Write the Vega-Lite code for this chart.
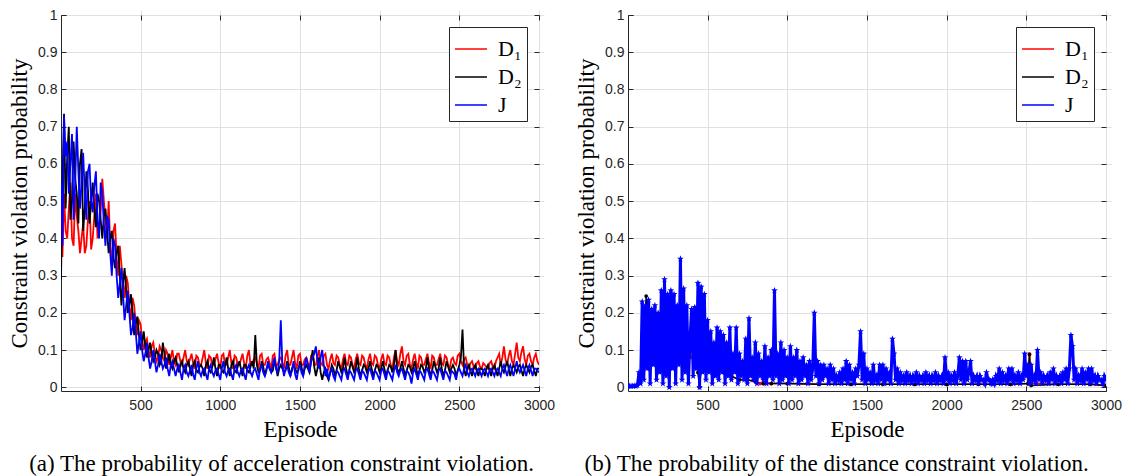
{
"$schema":"https://vega.github.io/schema/vega-lite/v6.json",
"padding":{"left":8,"top":7,"right":0,"bottom":0},
"background":"white",
"datasets":{
"acc":[
{"e":1,"D1":0.45,"D2":0.29,"J":0.55},{"e":10,"D1":0.35,"D2":0.55,"J":0.38},{"e":20,"D1":0.52,"D2":0.735,"J":0.73},{"e":30,"D1":0.42,"D2":0.48,"J":0.62},{"e":40,"D1":0.40,"D2":0.62,"J":0.66},{"e":50,"D1":0.48,"D2":0.70,"J":0.52},{"e":60,"D1":0.55,"D2":0.45,"J":0.60},{"e":70,"D1":0.40,"D2":0.50,"J":0.68},{"e":80,"D1":0.38,"D2":0.66,"J":0.45},{"e":90,"D1":0.52,"D2":0.56,"J":0.55},{"e":100,"D1":0.46,"D2":0.52,"J":0.70},{"e":110,"D1":0.42,"D2":0.44,"J":0.58},{"e":120,"D1":0.36,"D2":0.60,"J":0.48},{"e":130,"D1":0.40,"D2":0.64,"J":0.55},{"e":140,"D1":0.44,"D2":0.42,"J":0.63},{"e":150,"D1":0.36,"D2":0.48,"J":0.52},{"e":160,"D1":0.38,"D2":0.58,"J":0.45},{"e":170,"D1":0.45,"D2":0.53,"J":0.58},{"e":180,"D1":0.50,"D2":0.44,"J":0.60},{"e":190,"D1":0.37,"D2":0.50,"J":0.50},{"e":200,"D1":0.40,"D2":0.55,"J":0.47},{"e":210,"D1":0.46,"D2":0.48,"J":0.54},{"e":220,"D1":0.52,"D2":0.43,"J":0.58},{"e":230,"D1":0.40,"D2":0.52,"J":0.45},{"e":240,"D1":0.42,"D2":0.50,"J":0.40},{"e":250,"D1":0.47,"D2":0.45,"J":0.55},{"e":260,"D1":0.56,"D2":0.40,"J":0.52},{"e":270,"D1":0.50,"D2":0.46,"J":0.44},{"e":280,"D1":0.45,"D2":0.48,"J":0.38},{"e":290,"D1":0.40,"D2":0.42,"J":0.46},{"e":300,"D1":0.50,"D2":0.36,"J":0.45},{"e":310,"D1":0.38,"D2":0.40,"J":0.36},{"e":320,"D1":0.33,"D2":0.42,"J":0.30},{"e":330,"D1":0.42,"D2":0.35,"J":0.40},{"e":340,"D1":0.44,"D2":0.32,"J":0.38},{"e":350,"D1":0.35,"D2":0.36,"J":0.30},{"e":360,"D1":0.30,"D2":0.38,"J":0.24},{"e":370,"D1":0.38,"D2":0.30,"J":0.28},{"e":380,"D1":0.33,"D2":0.22,"J":0.32},{"e":390,"D1":0.28,"D2":0.28,"J":0.25},{"e":400,"D1":0.24,"D2":0.32,"J":0.18},{"e":410,"D1":0.30,"D2":0.26,"J":0.22},{"e":420,"D1":0.28,"D2":0.20,"J":0.26},{"e":430,"D1":0.22,"D2":0.22,"J":0.20},{"e":440,"D1":0.18,"D2":0.25,"J":0.14},{"e":450,"D1":0.24,"D2":0.20,"J":0.16},{"e":460,"D1":0.22,"D2":0.14,"J":0.20},{"e":470,"D1":0.17,"D2":0.17,"J":0.15},{"e":480,"D1":0.14,"D2":0.19,"J":0.09},{"e":490,"D1":0.18,"D2":0.14,"J":0.12},{"e":500,"D1":0.17,"D2":0.10,"J":0.15},{"e":510,"D1":0.13,"D2":0.12,"J":0.10},{"e":520,"D1":0.10,"D2":0.15,"J":0.07},{"e":530,"D1":0.12,"D2":0.11,"J":0.09},{"e":540,"D1":0.13,"D2":0.08,"J":0.12},{"e":550,"D1":0.10,"D2":0.10,"J":0.08},{"e":560,"D1":0.08,"D2":0.12,"J":0.05},{"e":570,"D1":0.11,"D2":0.09,"J":0.07},{"e":580,"D1":0.12,"D2":0.07,"J":0.10},{"e":590,"D1":0.09,"D2":0.08,"J":0.07},{"e":600,"D1":0.07,"D2":0.10,"J":0.04},{"e":610,"D1":0.08,"D2":0.09,"J":0.06},{"e":620,"D1":0.11,"D2":0.06,"J":0.09},{"e":630,"D1":0.10,"D2":0.07,"J":0.07},{"e":640,"D1":0.08,"D2":0.12,"J":0.05},{"e":650,"D1":0.07,"D2":0.09,"J":0.06},{"e":660,"D1":0.10,"D2":0.05,"J":0.08},{"e":670,"D1":0.09,"D2":0.07,"J":0.05},{"e":680,"D1":0.06,"D2":0.09,"J":0.03},{"e":690,"D1":0.08,"D2":0.06,"J":0.06},{"e":700,"D1":0.10,"D2":0.05,"J":0.07},{"e":710,"D1":0.07,"D2":0.07,"J":0.05},{"e":720,"D1":0.06,"D2":0.08,"J":0.03},{"e":730,"D1":0.09,"D2":0.06,"J":0.05},{"e":740,"D1":0.09,"D2":0.04,"J":0.06},{"e":750,"D1":0.07,"D2":0.06,"J":0.04},{"e":760,"D1":0.06,"D2":0.07,"J":0.02},{"e":770,"D1":0.08,"D2":0.05,"J":0.05},{"e":780,"D1":0.10,"D2":0.04,"J":0.06},{"e":790,"D1":0.07,"D2":0.06,"J":0.04},{"e":800,"D1":0.06,"D2":0.07,"J":0.03},
{"e":810,"D1":0.075,"D2":0.05,"J":0.045},{"e":820,"D1":0.09,"D2":0.03,"J":0.06},{"e":830,"D1":0.065,"D2":0.06,"J":0.035},{"e":840,"D1":0.05,"D2":0.07,"J":0.02},{"e":850,"D1":0.085,"D2":0.045,"J":0.05},{"e":860,"D1":0.08,"D2":0.04,"J":0.07},{"e":870,"D1":0.06,"D2":0.055,"J":0.04},{"e":880,"D1":0.06,"D2":0.06,"J":0.03},{"e":890,"D1":0.08,"D2":0.05,"J":0.045},{"e":900,"D1":0.10,"D2":0.03,"J":0.05},{"e":910,"D1":0.065,"D2":0.06,"J":0.035},{"e":920,"D1":0.05,"D2":0.07,"J":0.02},{"e":930,"D1":0.085,"D2":0.045,"J":0.05},{"e":940,"D1":0.08,"D2":0.04,"J":0.06},{"e":950,"D1":0.06,"D2":0.055,"J":0.04},{"e":960,"D1":0.06,"D2":0.08,"J":0.03},{"e":970,"D1":0.075,"D2":0.05,"J":0.045},{"e":980,"D1":0.09,"D2":0.03,"J":0.05},{"e":990,"D1":0.065,"D2":0.06,"J":0.035},{"e":1000,"D1":0.05,"D2":0.06,"J":0.02},{"e":1010,"D1":0.085,"D2":0.045,"J":0.05},{"e":1020,"D1":0.09,"D2":0.04,"J":0.07},{"e":1030,"D1":0.06,"D2":0.055,"J":0.04},{"e":1040,"D1":0.06,"D2":0.08,"J":0.03},{"e":1050,"D1":0.08,"D2":0.05,"J":0.045},{"e":1060,"D1":0.10,"D2":0.03,"J":0.05},{"e":1070,"D1":0.065,"D2":0.06,"J":0.035},{"e":1080,"D1":0.05,"D2":0.07,"J":0.02},{"e":1090,"D1":0.085,"D2":0.045,"J":0.05},{"e":1100,"D1":0.08,"D2":0.04,"J":0.06},{"e":1110,"D1":0.06,"D2":0.055,"J":0.04},{"e":1120,"D1":0.06,"D2":0.07,"J":0.03},{"e":1130,"D1":0.075,"D2":0.05,"J":0.045},{"e":1140,"D1":0.09,"D2":0.03,"J":0.05},{"e":1150,"D1":0.065,"D2":0.06,"J":0.035},{"e":1160,"D1":0.05,"D2":0.06,"J":0.02},{"e":1170,"D1":0.085,"D2":0.045,"J":0.05},{"e":1180,"D1":0.10,"D2":0.04,"J":0.06},{"e":1190,"D1":0.06,"D2":0.055,"J":0.04},{"e":1200,"D1":0.06,"D2":0.07,"J":0.03},{"e":1210,"D1":0.075,"D2":0.05,"J":0.045},{"e":1220,"D1":0.08,"D2":0.14,"J":0.05},{"e":1230,"D1":0.065,"D2":0.06,"J":0.035},{"e":1240,"D1":0.05,"D2":0.04,"J":0.02},{"e":1250,"D1":0.085,"D2":0.045,"J":0.05},{"e":1260,"D1":0.09,"D2":0.07,"J":0.06},{"e":1270,"D1":0.06,"D2":0.055,"J":0.04},{"e":1280,"D1":0.06,"D2":0.03,"J":0.03},{"e":1290,"D1":0.075,"D2":0.05,"J":0.045},{"e":1300,"D1":0.08,"D2":0.06,"J":0.07},{"e":1310,"D1":0.065,"D2":0.05,"J":0.05},{"e":1320,"D1":0.05,"D2":0.04,"J":0.04},{"e":1330,"D1":0.085,"D2":0.045,"J":0.06},{"e":1340,"D1":0.09,"D2":0.07,"J":0.08},{"e":1350,"D1":0.06,"D2":0.055,"J":0.05},{"e":1360,"D1":0.06,"D2":0.03,"J":0.04},{"e":1370,"D1":0.075,"D2":0.05,"J":0.07},{"e":1380,"D1":0.08,"D2":0.06,"J":0.18},{"e":1390,"D1":0.065,"D2":0.05,"J":0.06},{"e":1400,"D1":0.05,"D2":0.04,"J":0.03},{"e":1410,"D1":0.085,"D2":0.045,"J":0.05},{"e":1420,"D1":0.10,"D2":0.07,"J":0.06},{"e":1430,"D1":0.06,"D2":0.055,"J":0.04},{"e":1440,"D1":0.06,"D2":0.03,"J":0.03},{"e":1450,"D1":0.08,"D2":0.05,"J":0.045},{"e":1460,"D1":0.10,"D2":0.06,"J":0.07},{"e":1470,"D1":0.065,"D2":0.05,"J":0.035},{"e":1480,"D1":0.05,"D2":0.04,"J":0.02},{"e":1490,"D1":0.085,"D2":0.045,"J":0.05},{"e":1500,"D1":0.09,"D2":0.07,"J":0.06},{"e":1510,"D1":0.06,"D2":0.055,"J":0.04},{"e":1520,"D1":0.06,"D2":0.03,"J":0.03},{"e":1530,"D1":0.075,"D2":0.05,"J":0.06},{"e":1540,"D1":0.08,"D2":0.06,"J":0.08},{"e":1550,"D1":0.065,"D2":0.05,"J":0.06},{"e":1560,"D1":0.05,"D2":0.04,"J":0.04},{"e":1570,"D1":0.085,"D2":0.07,"J":0.07},{"e":1580,"D1":0.09,"D2":0.10,"J":0.08},{"e":1590,"D1":0.06,"D2":0.055,"J":0.09},{"e":1600,"D1":0.06,"D2":0.03,"J":0.11},{"e":1610,"D1":0.08,"D2":0.05,"J":0.07},{"e":1620,"D1":0.10,"D2":0.08,"J":0.05},{"e":1630,"D1":0.065,"D2":0.04,"J":0.08},{"e":1640,"D1":0.06,"D2":0.02,"J":0.10},{"e":1650,"D1":0.085,"D2":0.04,"J":0.06},{"e":1660,"D1":0.09,"D2":0.05,"J":0.03},{"e":1670,"D1":0.06,"D2":0.03,"J":0.05},{"e":1680,"D1":0.05,"D2":0.02,"J":0.02},{"e":1690,"D1":0.075,"D2":0.04,"J":0.04},{"e":1700,"D1":0.09,"D2":0.06,"J":0.05},{"e":1710,"D1":0.065,"D2":0.05,"J":0.03},{"e":1720,"D1":0.06,"D2":0.03,"J":0.02},{"e":1730,"D1":0.085,"D2":0.045,"J":0.045},{"e":1740,"D1":0.08,"D2":0.07,"J":0.04},{"e":1750,"D1":0.06,"D2":0.055,"J":0.03},{"e":1760,"D1":0.05,"D2":0.04,"J":0.02},{"e":1770,"D1":0.075,"D2":0.05,"J":0.045},{"e":1780,"D1":0.09,"D2":0.08,"J":0.05},{"e":1790,"D1":0.065,"D2":0.05,"J":0.035},{"e":1800,"D1":0.06,"D2":0.03,"J":0.02},{"e":1810,"D1":0.085,"D2":0.045,"J":0.045},{"e":1820,"D1":0.08,"D2":0.07,"J":0.04},{"e":1830,"D1":0.06,"D2":0.055,"J":0.03},{"e":1840,"D1":0.05,"D2":0.04,"J":0.02},{"e":1850,"D1":0.075,"D2":0.05,"J":0.045},{"e":1860,"D1":0.09,"D2":0.08,"J":0.05},{"e":1870,"D1":0.065,"D2":0.05,"J":0.035},{"e":1880,"D1":0.06,"D2":0.03,"J":0.02},{"e":1890,"D1":0.085,"D2":0.045,"J":0.045},{"e":1900,"D1":0.08,"D2":0.06,"J":0.04},{"e":1910,"D1":0.06,"D2":0.055,"J":0.03},{"e":1920,"D1":0.05,"D2":0.04,"J":0.02},{"e":1930,"D1":0.075,"D2":0.05,"J":0.045},{"e":1940,"D1":0.09,"D2":0.07,"J":0.05},{"e":1950,"D1":0.065,"D2":0.05,"J":0.035},{"e":1960,"D1":0.06,"D2":0.03,"J":0.02},{"e":1970,"D1":0.085,"D2":0.045,"J":0.045},{"e":1980,"D1":0.08,"D2":0.06,"J":0.04},{"e":1990,"D1":0.06,"D2":0.055,"J":0.03},{"e":2000,"D1":0.05,"D2":0.04,"J":0.02},{"e":2010,"D1":0.075,"D2":0.05,"J":0.045},{"e":2020,"D1":0.09,"D2":0.07,"J":0.05},{"e":2030,"D1":0.065,"D2":0.05,"J":0.035},{"e":2040,"D1":0.06,"D2":0.03,"J":0.02},{"e":2050,"D1":0.085,"D2":0.045,"J":0.045},{"e":2060,"D1":0.08,"D2":0.06,"J":0.04},{"e":2070,"D1":0.06,"D2":0.055,"J":0.03},{"e":2080,"D1":0.05,"D2":0.04,"J":0.02},{"e":2090,"D1":0.08,"D2":0.06,"J":0.045},{"e":2100,"D1":0.10,"D2":0.10,"J":0.06},{"e":2110,"D1":0.07,"D2":0.05,"J":0.04},{"e":2120,"D1":0.06,"D2":0.04,"J":0.03},{"e":2130,"D1":0.09,"D2":0.05,"J":0.045},{"e":2140,"D1":0.11,"D2":0.07,"J":0.05},{"e":2150,"D1":0.07,"D2":0.05,"J":0.035},{"e":2160,"D1":0.06,"D2":0.03,"J":0.02},{"e":2170,"D1":0.085,"D2":0.045,"J":0.045},{"e":2180,"D1":0.09,"D2":0.06,"J":0.04},{"e":2190,"D1":0.06,"D2":0.055,"J":0.03},{"e":2200,"D1":0.05,"D2":0.04,"J":0.01},{"e":2210,"D1":0.075,"D2":0.05,"J":0.04},{"e":2220,"D1":0.09,"D2":0.07,"J":0.05},{"e":2230,"D1":0.065,"D2":0.05,"J":0.035},{"e":2240,"D1":0.05,"D2":0.03,"J":0.02},{"e":2250,"D1":0.085,"D2":0.045,"J":0.045},{"e":2260,"D1":0.08,"D2":0.06,"J":0.04},{"e":2270,"D1":0.06,"D2":0.055,"J":0.03},{"e":2280,"D1":0.06,"D2":0.04,"J":0.02},{"e":2290,"D1":0.075,"D2":0.05,"J":0.045},{"e":2300,"D1":0.09,"D2":0.08,"J":0.05},{"e":2310,"D1":0.065,"D2":0.05,"J":0.035},{"e":2320,"D1":0.05,"D2":0.03,"J":0.02},{"e":2330,"D1":0.085,"D2":0.045,"J":0.045},{"e":2340,"D1":0.08,"D2":0.07,"J":0.04},{"e":2350,"D1":0.06,"D2":0.055,"J":0.03},{"e":2360,"D1":0.06,"D2":0.04,"J":0.02},{"e":2370,"D1":0.075,"D2":0.05,"J":0.045},{"e":2380,"D1":0.09,"D2":0.08,"J":0.05},{"e":2390,"D1":0.065,"D2":0.05,"J":0.035},{"e":2400,"D1":0.06,"D2":0.03,"J":0.02},{"e":2410,"D1":0.085,"D2":0.045,"J":0.045},{"e":2420,"D1":0.08,"D2":0.07,"J":0.04},{"e":2430,"D1":0.06,"D2":0.055,"J":0.03},{"e":2440,"D1":0.05,"D2":0.04,"J":0.02},{"e":2450,"D1":0.075,"D2":0.05,"J":0.045},{"e":2460,"D1":0.08,"D2":0.06,"J":0.04},{"e":2470,"D1":0.065,"D2":0.05,"J":0.035},{"e":2480,"D1":0.06,"D2":0.03,"J":0.02},{"e":2490,"D1":0.085,"D2":0.045,"J":0.045},{"e":2500,"D1":0.09,"D2":0.06,"J":0.05},{"e":2510,"D1":0.07,"D2":0.08,"J":0.04},{"e":2520,"D1":0.06,"D2":0.155,"J":0.03},{"e":2530,"D1":0.075,"D2":0.05,"J":0.05},{"e":2540,"D1":0.08,"D2":0.03,"J":0.06},{"e":2550,"D1":0.06,"D2":0.05,"J":0.04},{"e":2560,"D1":0.05,"D2":0.06,"J":0.03},{"e":2570,"D1":0.065,"D2":0.045,"J":0.045},{"e":2580,"D1":0.07,"D2":0.03,"J":0.05},{"e":2590,"D1":0.055,"D2":0.05,"J":0.04},{"e":2600,"D1":0.05,"D2":0.06,"J":0.03},{"e":2610,"D1":0.065,"D2":0.045,"J":0.045},{"e":2620,"D1":0.07,"D2":0.03,"J":0.05},{"e":2630,"D1":0.055,"D2":0.05,"J":0.04},{"e":2640,"D1":0.05,"D2":0.05,"J":0.03},{"e":2650,"D1":0.065,"D2":0.045,"J":0.045},{"e":2660,"D1":0.06,"D2":0.03,"J":0.05},{"e":2670,"D1":0.055,"D2":0.05,"J":0.04},{"e":2680,"D1":0.05,"D2":0.06,"J":0.03},{"e":2690,"D1":0.065,"D2":0.045,"J":0.045},{"e":2700,"D1":0.07,"D2":0.03,"J":0.05},{"e":2710,"D1":0.055,"D2":0.05,"J":0.04},{"e":2720,"D1":0.05,"D2":0.06,"J":0.03},{"e":2730,"D1":0.07,"D2":0.045,"J":0.045},{"e":2740,"D1":0.08,"D2":0.03,"J":0.05},{"e":2750,"D1":0.09,"D2":0.05,"J":0.04},{"e":2760,"D1":0.06,"D2":0.07,"J":0.03},{"e":2770,"D1":0.08,"D2":0.05,"J":0.05},{"e":2780,"D1":0.11,"D2":0.04,"J":0.06},{"e":2790,"D1":0.075,"D2":0.055,"J":0.045},{"e":2800,"D1":0.06,"D2":0.07,"J":0.03},{"e":2810,"D1":0.085,"D2":0.05,"J":0.05},{"e":2820,"D1":0.10,"D2":0.03,"J":0.06},{"e":2830,"D1":0.07,"D2":0.05,"J":0.045},{"e":2840,"D1":0.06,"D2":0.06,"J":0.03},{"e":2850,"D1":0.09,"D2":0.05,"J":0.05},{"e":2860,"D1":0.12,"D2":0.04,"J":0.07},{"e":2870,"D1":0.08,"D2":0.055,"J":0.05},{"e":2880,"D1":0.07,"D2":0.06,"J":0.04},{"e":2890,"D1":0.095,"D2":0.045,"J":0.05},{"e":2900,"D1":0.11,"D2":0.03,"J":0.06},{"e":2910,"D1":0.075,"D2":0.05,"J":0.045},{"e":2920,"D1":0.06,"D2":0.06,"J":0.03},{"e":2930,"D1":0.085,"D2":0.05,"J":0.05},{"e":2940,"D1":0.09,"D2":0.04,"J":0.06},{"e":2950,"D1":0.07,"D2":0.055,"J":0.045},{"e":2960,"D1":0.06,"D2":0.06,"J":0.03},{"e":2970,"D1":0.08,"D2":0.045,"J":0.05},{"e":2980,"D1":0.09,"D2":0.03,"J":0.05},{"e":2990,"D1":0.07,"D2":0.05,"J":0.045},{"e":3000,"D1":0.06,"D2":0.05,"J":0.04}
],
"distD":[
{"e":1,"D1":0.003,"D2":0.003},{"e":50,"D1":0.003,"D2":0.004},{"e":80,"D1":0.03,"D2":0.02},{"e":100,"D1":0.12,"D2":0.1},{"e":115,"D1":0.08,"D2":0.245},{"e":130,"D1":0.1,"D2":0.05},{"e":150,"D1":0.14,"D2":0.12},{"e":200,"D1":0.1,"D2":0.15},{"e":250,"D1":0.16,"D2":0.12},{"e":300,"D1":0.1,"D2":0.14},{"e":350,"D1":0.12,"D2":0.1},{"e":400,"D1":0.08,"D2":0.1},{"e":440,"D1":0.05,"D2":0.04},{"e":450,"D1":0.0,"D2":0.0},{"e":460,"D1":0.06,"D2":0.05},{"e":500,"D1":0.06,"D2":0.05},{"e":550,"D1":0.05,"D2":0.05},{"e":600,"D1":0.04,"D2":0.04},{"e":650,"D1":0.03,"D2":0.03},{"e":700,"D1":0.02,"D2":0.02},{"e":750,"D1":0.02,"D2":0.02},{"e":800,"D1":0.015,"D2":0.015},{"e":830,"D1":0.01,"D2":0.06},{"e":850,"D1":0.01,"D2":0.01},{"e":900,"D1":0.01,"D2":0.01},{"e":1000,"D1":0.01,"D2":0.01},{"e":1200,"D1":0.008,"D2":0.008},{"e":1400,"D1":0.008,"D2":0.008},{"e":1600,"D1":0.008,"D2":0.008},{"e":1800,"D1":0.008,"D2":0.008},{"e":2000,"D1":0.008,"D2":0.008},{"e":2200,"D1":0.008,"D2":0.008},{"e":2400,"D1":0.008,"D2":0.008},{"e":2510,"D1":0.01,"D2":0.01},{"e":2520,"D1":0.09,"D2":0.088},{"e":2530,"D1":0.01,"D2":0.005},{"e":2700,"D1":0.008,"D2":0.008},{"e":2900,"D1":0.008,"D2":0.008},{"e":3000,"D1":0.005,"D2":0.005}
],
"distJ":[
{"e":1,"J":0.003},{"e":10,"J":0.003},{"e":20,"J":0.003},{"e":30,"J":0.003},{"e":40,"J":0.004},{"e":50,"J":0.003},{"e":60,"J":0.005},{"e":70,"J":0.04},{"e":80,"J":0.01},{"e":90,"J":0.23},{"e":100,"J":0.02},{"e":110,"J":0.22},{"e":120,"J":0.05},{"e":130,"J":0.235},{"e":140,"J":0.01},{"e":150,"J":0.21},{"e":160,"J":0.06},{"e":170,"J":0.22},{"e":180,"J":0.02},{"e":190,"J":0.2},{"e":200,"J":0.04},{"e":210,"J":0.26},{"e":220,"J":0.01},{"e":230,"J":0.29},{"e":240,"J":0.03},{"e":250,"J":0.25},{"e":260,"J":0.0},{"e":270,"J":0.26},{"e":280,"J":0.05},{"e":290,"J":0.25},{"e":300,"J":0.01},{"e":310,"J":0.22},{"e":320,"J":0.06},{"e":330,"J":0.345},{"e":340,"J":0.02},{"e":350,"J":0.265},{"e":360,"J":0.04},{"e":370,"J":0.22},{"e":380,"J":0.01},{"e":390,"J":0.13},{"e":400,"J":0.21},{"e":410,"J":0.03},{"e":420,"J":0.215},{"e":430,"J":0.05},{"e":440,"J":0.28},{"e":450,"J":0.0},{"e":460,"J":0.27},{"e":470,"J":0.04},{"e":480,"J":0.25},{"e":490,"J":0.02},{"e":500,"J":0.18},{"e":510,"J":0.04},{"e":520,"J":0.15},{"e":530,"J":0.01},{"e":540,"J":0.12},{"e":550,"J":0.03},{"e":560,"J":0.16},{"e":570,"J":0.02},{"e":580,"J":0.15},{"e":590,"J":0.04},{"e":600,"J":0.14},{"e":610,"J":0.01},{"e":620,"J":0.12},{"e":630,"J":0.03},{"e":640,"J":0.16},{"e":650,"J":0.02},{"e":660,"J":0.09},{"e":670,"J":0.04},{"e":680,"J":0.16},{"e":690,"J":0.01},{"e":700,"J":0.09},{"e":710,"J":0.03},{"e":720,"J":0.07},{"e":730,"J":0.02},{"e":740,"J":0.13},{"e":750,"J":0.01},{"e":760,"J":0.185},{"e":770,"J":0.03},{"e":780,"J":0.08},{"e":790,"J":0.02},{"e":800,"J":0.12},{"e":810,"J":0.01},{"e":820,"J":0.09},{"e":830,"J":0.03},{"e":840,"J":0.07},{"e":850,"J":0.02},{"e":860,"J":0.11},{"e":870,"J":0.01},{"e":880,"J":0.08},{"e":890,"J":0.03},{"e":900,"J":0.1},{"e":910,"J":0.02},{"e":920,"J":0.26},{"e":930,"J":0.03},{"e":940,"J":0.09},{"e":950,"J":0.01},{"e":960,"J":0.12},{"e":970,"J":0.02},{"e":980,"J":0.1},{"e":990,"J":0.03},{"e":1000,"J":0.08},{"e":1010,"J":0.01},{"e":1020,"J":0.11},{"e":1030,"J":0.02},{"e":1040,"J":0.08},{"e":1050,"J":0.03},{"e":1060,"J":0.1},{"e":1070,"J":0.01},{"e":1080,"J":0.07},{"e":1090,"J":0.02},{"e":1100,"J":0.08},{"e":1110,"J":0.03},{"e":1120,"J":0.06},{"e":1130,"J":0.01},{"e":1140,"J":0.07},{"e":1150,"J":0.02},{"e":1160,"J":0.05},{"e":1170,"J":0.2},{"e":1180,"J":0.03},{"e":1190,"J":0.07},{"e":1200,"J":0.01},{"e":1210,"J":0.06},{"e":1220,"J":0.02},{"e":1230,"J":0.06},{"e":1240,"J":0.03},{"e":1250,"J":0.05},{"e":1260,"J":0.01},{"e":1270,"J":0.06},{"e":1280,"J":0.02},{"e":1290,"J":0.05},{"e":1300,"J":0.01},{"e":1310,"J":0.03},{"e":1320,"J":0.02},{"e":1330,"J":0.04},{"e":1340,"J":0.01},{"e":1350,"J":0.05},{"e":1360,"J":0.02},{"e":1370,"J":0.07},{"e":1380,"J":0.01},{"e":1390,"J":0.06},{"e":1400,"J":0.02},{"e":1410,"J":0.04},{"e":1420,"J":0.01},{"e":1430,"J":0.05},{"e":1440,"J":0.03},{"e":1450,"J":0.06},{"e":1460,"J":0.15},{"e":1470,"J":0.02},{"e":1480,"J":0.09},{"e":1490,"J":0.01},{"e":1500,"J":0.05},{"e":1510,"J":0.02},{"e":1520,"J":0.04},{"e":1530,"J":0.01},{"e":1540,"J":0.06},{"e":1550,"J":0.02},{"e":1560,"J":0.03},{"e":1570,"J":0.01},{"e":1580,"J":0.06},{"e":1590,"J":0.02},{"e":1600,"J":0.06},{"e":1610,"J":0.01},{"e":1620,"J":0.05},{"e":1630,"J":0.02},{"e":1640,"J":0.04},{"e":1650,"J":0.01},{"e":1660,"J":0.13},{"e":1670,"J":0.09},{"e":1680,"J":0.02},{"e":1690,"J":0.05},{"e":1700,"J":0.01},{"e":1710,"J":0.04},{"e":1720,"J":0.02},{"e":1730,"J":0.03},{"e":1740,"J":0.01},{"e":1750,"J":0.04},{"e":1760,"J":0.02},{"e":1770,"J":0.03},{"e":1780,"J":0.01},{"e":1790,"J":0.03},{"e":1800,"J":0.02},{"e":1810,"J":0.04},{"e":1820,"J":0.01},{"e":1830,"J":0.03},{"e":1840,"J":0.02},{"e":1850,"J":0.03},{"e":1860,"J":0.01},{"e":1870,"J":0.04},{"e":1880,"J":0.02},{"e":1890,"J":0.03},{"e":1900,"J":0.01},{"e":1910,"J":0.03},{"e":1920,"J":0.02},{"e":1930,"J":0.04},{"e":1940,"J":0.01},{"e":1950,"J":0.03},{"e":1960,"J":0.02},{"e":1970,"J":0.03},{"e":1980,"J":0.01},{"e":1990,"J":0.08},{"e":2000,"J":0.02},{"e":2010,"J":0.04},{"e":2020,"J":0.01},{"e":2030,"J":0.03},{"e":2040,"J":0.02},{"e":2050,"J":0.04},{"e":2060,"J":0.01},{"e":2070,"J":0.03},{"e":2080,"J":0.08},{"e":2090,"J":0.02},{"e":2100,"J":0.07},{"e":2110,"J":0.01},{"e":2120,"J":0.07},{"e":2130,"J":0.02},{"e":2140,"J":0.04},{"e":2150,"J":0.07},{"e":2160,"J":0.01},{"e":2170,"J":0.03},{"e":2180,"J":0.02},{"e":2190,"J":0.03},{"e":2200,"J":0.01},{"e":2210,"J":0.03},{"e":2220,"J":0.02},{"e":2230,"J":0.02},{"e":2240,"J":0.01},{"e":2250,"J":0.04},{"e":2260,"J":0.02},{"e":2270,"J":0.02},{"e":2280,"J":0.01},{"e":2290,"J":0.02},{"e":2300,"J":0.01},{"e":2310,"J":0.03},{"e":2320,"J":0.02},{"e":2330,"J":0.05},{"e":2340,"J":0.01},{"e":2350,"J":0.04},{"e":2360,"J":0.02},{"e":2370,"J":0.03},{"e":2380,"J":0.01},{"e":2390,"J":0.05},{"e":2400,"J":0.02},{"e":2410,"J":0.05},{"e":2420,"J":0.01},{"e":2430,"J":0.03},{"e":2440,"J":0.02},{"e":2450,"J":0.04},{"e":2460,"J":0.01},{"e":2470,"J":0.03},{"e":2480,"J":0.02},{"e":2490,"J":0.09},{"e":2500,"J":0.03},{"e":2510,"J":0.06},{"e":2520,"J":0.01},{"e":2530,"J":0.06},{"e":2540,"J":0.02},{"e":2550,"J":0.03},{"e":2560,"J":0.01},{"e":2570,"J":0.1},{"e":2580,"J":0.02},{"e":2590,"J":0.04},{"e":2600,"J":0.01},{"e":2610,"J":0.03},{"e":2620,"J":0.02},{"e":2630,"J":0.03},{"e":2640,"J":0.01},{"e":2650,"J":0.04},{"e":2660,"J":0.02},{"e":2670,"J":0.05},{"e":2680,"J":0.01},{"e":2690,"J":0.03},{"e":2700,"J":0.02},{"e":2710,"J":0.03},{"e":2720,"J":0.01},{"e":2730,"J":0.04},{"e":2740,"J":0.02},{"e":2750,"J":0.05},{"e":2760,"J":0.01},{"e":2770,"J":0.05},{"e":2780,"J":0.14},{"e":2790,"J":0.11},{"e":2800,"J":0.02},{"e":2810,"J":0.05},{"e":2820,"J":0.01},{"e":2830,"J":0.03},{"e":2840,"J":0.02},{"e":2850,"J":0.05},{"e":2860,"J":0.01},{"e":2870,"J":0.04},{"e":2880,"J":0.02},{"e":2890,"J":0.05},{"e":2900,"J":0.01},{"e":2910,"J":0.05},{"e":2920,"J":0.02},{"e":2930,"J":0.03},{"e":2940,"J":0.01},{"e":2950,"J":0.03},{"e":2960,"J":0.02},{"e":2970,"J":0.02},{"e":2980,"J":0.01},{"e":2990,"J":0.03},{"e":3000,"J":0.02}
]
},
"hconcat":[
{
"width":478,"height":376,
"title":{"text":"(a) The probability of acceleration constraint violation.","orient":"bottom","anchor":"middle","frame":"bounds","font":"Liberation Serif","fontSize":23,"fontWeight":"normal","color":"#000000","offset":12},
"data":{"name":"acc"},
"layer":[
{"transform":[{"fold":["D1","D2","J"],"as":["s","v"]}],
"mark":{"type":"line","strokeWidth":1.8,"clip":true},
"encoding":{
"x":{"field":"e","type":"quantitative","scale":{"domain":[1,3000],"nice":false,"zero":false},"axis":{"values":[500,1000,1500,2000,2500,3000],"format":"d","labelFlush":false,"labelPadding":7,"title":"Episode","grid":true,"titlePadding":6}},
"y":{"field":"v","type":"quantitative","scale":{"domain":[-0.01,1],"nice":false,"zero":false},"axis":{"values":[0,0.1,0.2,0.3,0.4,0.5,0.6,0.7,0.8,0.9,1],"format":"~g","title":"Constraint violation probability","grid":true,"titlePadding":6}},
"color":{"field":"s","type":"nominal","scale":{"domain":["D1","D2","J"],"range":["#ff0000","#000000","#0000ff"]},
"legend":{"title":null,"orient":"top-right","offset":12,"strokeColor":"#262626","fillColor":"#ffffff","padding":5,"symbolType":"stroke","symbolSize":1024,"symbolStrokeWidth":1.5,"labelFont":"Liberation Serif","labelFontSize":22,"labelColor":"#000000","labelOffset":10,"rowPadding":0,"labelExpr":"datum.label == 'D1' ? 'D₁' : datum.label == 'D2' ? 'D₂' : 'J'"}}
}},
{"mark":{"type":"line","opacity":0},
"encoding":{
"x":{"field":"e","type":"quantitative","axis":{"orient":"top","labels":false,"title":null,"grid":false,"values":[500,1000,1500,2000,2500,3000]}},
"y":{"field":"J","type":"quantitative","axis":{"orient":"right","labels":false,"title":null,"grid":false,"values":[0,0.1,0.2,0.3,0.4,0.5,0.6,0.7,0.8,0.9,1]}}
}}
],
"resolve":{"axis":{"x":"independent","y":"independent"}}
},
{
"width":478,"height":376,
"title":{"text":"(b) The probability of the distance constraint violation.","orient":"bottom","anchor":"middle","frame":"bounds","font":"Liberation Serif","fontSize":23,"fontWeight":"normal","color":"#000000","offset":12,"dx":-12},
"layer":[
{"data":{"name":"distD"},
"transform":[{"fold":["D1","D2"],"as":["s","v"]}],
"mark":{"type":"line","strokeWidth":1.5,"clip":true},
"encoding":{
"x":{"field":"e","type":"quantitative","scale":{"domain":[1,3000],"nice":false,"zero":false},"axis":{"values":[500,1000,1500,2000,2500,3000],"format":"d","labelFlush":false,"labelPadding":7,"title":"Episode","grid":true,"titlePadding":6}},
"y":{"field":"v","type":"quantitative","scale":{"domain":[-0.01,1],"nice":false,"zero":false},"axis":{"values":[0,0.1,0.2,0.3,0.4,0.5,0.6,0.7,0.8,0.9,1],"format":"~g","title":"Constraint violation probability","grid":true,"titlePadding":6}},
"color":{"field":"s","type":"nominal","scale":{"domain":["D1","D2","J"],"range":["#ff0000","#000000","#0000ff"]},
"legend":{"title":null,"orient":"top-right","offset":12,"strokeColor":"#262626","fillColor":"#ffffff","padding":5,"symbolType":"stroke","symbolSize":1024,"symbolStrokeWidth":1.5,"labelFont":"Liberation Serif","labelFontSize":22,"labelColor":"#000000","labelOffset":10,"rowPadding":0,"labelExpr":"datum.label == 'D1' ? 'D₁' : datum.label == 'D2' ? 'D₂' : 'J'"}}
}},
{"data":{"name":"distD"},
"transform":[{"fold":["D1","D2"],"as":["s","v"]}],
"mark":{"type":"point","shape":"circle","size":14,"filled":true,"opacity":1,"clip":true},
"encoding":{"x":{"field":"e","type":"quantitative","axis":null},"y":{"field":"v","type":"quantitative","axis":null},"color":{"field":"s","type":"nominal","legend":null}}},
{"data":{"name":"distJ"},
"mark":{"type":"line","strokeWidth":3,"clip":true},
"encoding":{"x":{"field":"e","type":"quantitative","axis":null},"y":{"field":"J","type":"quantitative","axis":null},"color":{"datum":"J"}}},
{"data":{"name":"distJ"},
"mark":{"type":"point","shape":"M0,-1L0.24,-0.33L0.95,-0.31L0.38,0.12L0.59,0.81L0,0.4L-0.59,0.81L-0.38,0.12L-0.95,-0.31L-0.24,-0.33Z","size":50,"filled":true,"opacity":1,"clip":true},
"encoding":{"x":{"field":"e","type":"quantitative","axis":null},"y":{"field":"J","type":"quantitative","axis":null},"color":{"datum":"J","legend":null}}},
{"data":{"name":"distJ"},
"mark":{"type":"line","opacity":0},
"encoding":{
"x":{"field":"e","type":"quantitative","axis":{"orient":"top","labels":false,"title":null,"grid":false,"values":[500,1000,1500,2000,2500,3000]}},
"y":{"field":"J","type":"quantitative","axis":{"orient":"right","labels":false,"title":null,"grid":false,"values":[0,0.1,0.2,0.3,0.4,0.5,0.6,0.7,0.8,0.9,1]}}
}}
],
"resolve":{"axis":{"x":"independent","y":"independent"}}
}
],
"spacing":89,
"bounds":"flush",
"resolve":{"scale":{"color":"independent"},"legend":{"color":"independent"}},
"config":{
"view":{"stroke":"#262626","strokeWidth":1},
"axis":{"labelFont":"Liberation Sans","labelFontSize":14,"labelColor":"#262626","titleFont":"Liberation Serif","titleFontSize":23,"titleFontWeight":"normal","titleColor":"#000000","domain":false,"tickColor":"#262626","tickSize":5,"offset":-5,"labelPadding":4,"gridColor":"#e0e0e0","gridWidth":1}
}
}
